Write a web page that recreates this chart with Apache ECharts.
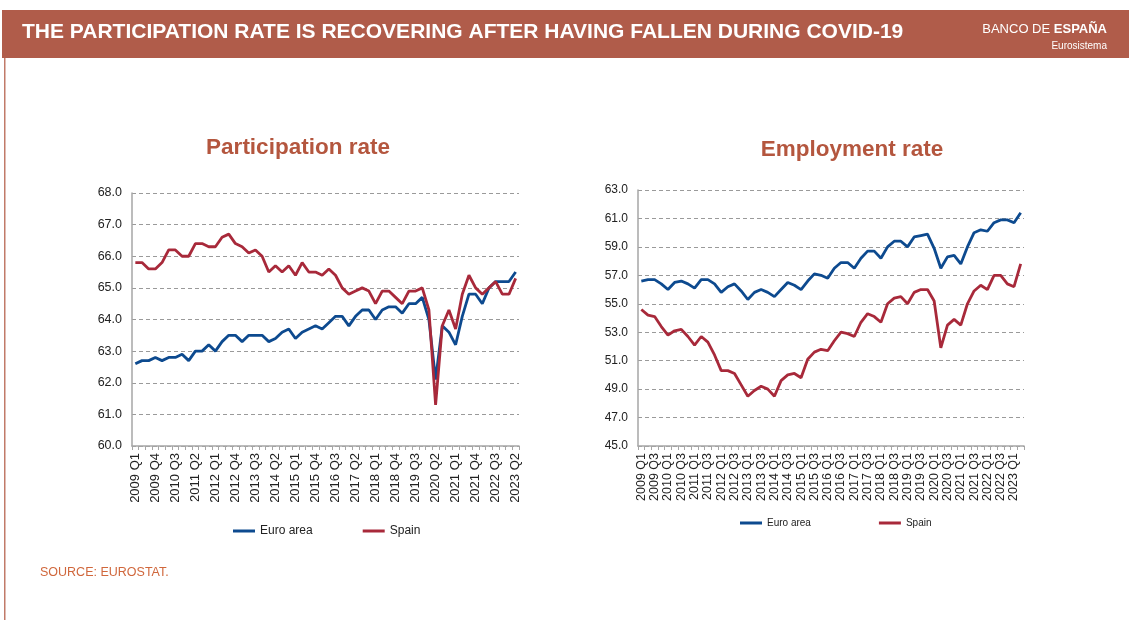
<!DOCTYPE html>
<html>
<head>
<meta charset="utf-8">
<script src="https://cdn.jsdelivr.net/npm/echarts@6/dist/echarts.min.js"></script>
<style>
  html, body { margin: 0; padding: 0; background: #fff; }
  #main { width: 1129px; height: 620px; }
</style>
</head>
<body>
<div id="main"></div>
<script>
// quarters 2009 Q1 - 2023 Q2
var quarters = [
  '2009 Q1', '2009 Q2', '2009 Q3', '2009 Q4', '2010 Q1', '2010 Q2', '2010 Q3', '2010 Q4',
  '2011 Q1', '2011 Q2', '2011 Q3', '2011 Q4', '2012 Q1', '2012 Q2', '2012 Q3', '2012 Q4',
  '2013 Q1', '2013 Q2', '2013 Q3', '2013 Q4', '2014 Q1', '2014 Q2', '2014 Q3', '2014 Q4',
  '2015 Q1', '2015 Q2', '2015 Q3', '2015 Q4', '2016 Q1', '2016 Q2', '2016 Q3', '2016 Q4',
  '2017 Q1', '2017 Q2', '2017 Q3', '2017 Q4', '2018 Q1', '2018 Q2', '2018 Q3', '2018 Q4',
  '2019 Q1', '2019 Q2', '2019 Q3', '2019 Q4', '2020 Q1', '2020 Q2', '2020 Q3', '2020 Q4',
  '2021 Q1', '2021 Q2', '2021 Q3', '2021 Q4', '2022 Q1', '2022 Q2', '2022 Q3', '2022 Q4',
  '2023 Q1', '2023 Q2'
]

// participation rate (%)
var partEuro = [
  62.6, 62.7, 62.7, 62.8, 62.7, 62.8, 62.8, 62.9, 62.7, 63.0,
  63.0, 63.2, 63.0, 63.3, 63.5, 63.5, 63.3, 63.5, 63.5, 63.5,
  63.3, 63.4, 63.6, 63.7, 63.4, 63.6, 63.7, 63.8, 63.7, 63.9,
  64.1, 64.1, 63.8, 64.1, 64.3, 64.3, 64.0, 64.3, 64.4, 64.4,
  64.2, 64.5, 64.5, 64.7, 64.0, 62.1, 63.8, 63.6, 63.2, 64.1,
  64.8, 64.8, 64.5, 65.0, 65.2, 65.2, 65.2, 65.5
]
var partSpain = [
  65.8, 65.8, 65.6, 65.6, 65.8, 66.2, 66.2, 66.0, 66.0, 66.4,
  66.4, 66.3, 66.3, 66.6, 66.7, 66.4, 66.3, 66.1, 66.2, 66.0,
  65.5, 65.7, 65.5, 65.7, 65.4, 65.8, 65.5, 65.5, 65.4, 65.6,
  65.4, 65.0, 64.8, 64.9, 65.0, 64.9, 64.5, 64.9, 64.9, 64.7,
  64.5, 64.9, 64.9, 65.0, 64.3, 61.3, 63.8, 64.3, 63.7, 64.8,
  65.4, 65.0, 64.8, 65.0, 65.2, 64.8, 64.8, 65.3
]

// employment rate (%)
var empEuro = [
  56.6, 56.7, 56.7, 56.4, 56.0, 56.5, 56.6, 56.4, 56.1, 56.7,
  56.7, 56.4, 55.8, 56.2, 56.4, 55.9, 55.3, 55.8, 56.0, 55.8,
  55.5, 56.0, 56.5, 56.3, 56.0, 56.6, 57.1, 57.0, 56.8, 57.5,
  57.9, 57.9, 57.5, 58.2, 58.7, 58.7, 58.2, 59.0, 59.4, 59.4,
  59.0, 59.7, 59.8, 59.9, 58.9, 57.5, 58.3, 58.4, 57.8, 59.0,
  60.0, 60.2, 60.1, 60.7, 60.9, 60.9, 60.7, 61.4
]
var empSpain = [
  54.6, 54.2, 54.1, 53.4, 52.8, 53.1, 53.2, 52.7, 52.1, 52.7,
  52.3, 51.4, 50.3, 50.3, 50.1, 49.3, 48.5, 48.9, 49.2, 49.0,
  48.5, 49.6, 50.0, 50.1, 49.8, 51.1, 51.6, 51.8, 51.7, 52.4,
  53.0, 52.9, 52.7, 53.7, 54.3, 54.1, 53.7, 55.0, 55.4, 55.5,
  55.0, 55.8, 56.0, 56.0, 55.2, 51.9, 53.5, 53.9, 53.5, 55.0,
  55.9, 56.3, 56.0, 57.0, 57.0, 56.4, 56.2, 57.8
]

var seriesNames = ['Euro area', 'Spain']
var mainTitle = 'THE PARTICIPATION RATE IS RECOVERING AFTER HAVING FALLEN DURING COVID-19'
var chartTitles = ['Participation rate', 'Employment rate']
var sourceText = 'SOURCE: EUROSTAT.'

var BLUE = '#0d4a8f'
var RED = '#a8293a'
var BRICK = '#b05c4a'
var FONT = '"Liberation Sans", Arial, sans-serif'

function xAxisOf(gridIndex, labelInterval, fontSize) {
  return {
    type: 'category',
    gridIndex: gridIndex,
    data: quarters,
    boundaryGap: true,
    axisLine: { lineStyle: { color: '#a6a6a6', width: 1.5 } },
    axisTick: { show: true, interval: 0, length: 4, lineStyle: { color: '#a6a6a6' } },
    axisLabel: {
      interval: labelInterval,
      rotate: 90,
      margin: 7,
      color: '#222',
      fontFamily: FONT,
      fontSize: fontSize
    },
    splitLine: { show: false }
  }
}

function yAxisOf(gridIndex, min, max, step, fontSize) {
  return {
    type: 'value',
    gridIndex: gridIndex,
    min: min,
    max: max,
    interval: step,
    axisLine: { show: true, lineStyle: { color: '#a6a6a6', width: 1.5 } },
    axisTick: { show: false },
    axisLabel: {
      margin: 10,
      color: '#222',
      fontFamily: FONT,
      fontSize: fontSize,
      formatter: function (v) { return v.toFixed(1) }
    },
    splitLine: { lineStyle: { color: '#9a9a9a', type: [4, 3], width: 1 } }
  }
}

function lineSeries(name, data, color, idx) {
  return {
    name: name,
    type: 'line',
    xAxisIndex: idx,
    yAxisIndex: idx,
    data: data,
    showSymbol: false,
    symbol: 'none',
    lineStyle: { color: color, width: 2.8 },
    itemStyle: { color: color },
    animation: false
  }
}

var chart = echarts.init(document.getElementById('main'))
var option = {
  backgroundColor: '#fff',
  animation: false,
  color: [BLUE, RED],
  title: [
    {
      text: chartTitles[0],
      left: 293,
      top: 131,
      textAlign: 'center',
      textStyle: { color: '#b4563e', fontSize: 22.5, fontWeight: 'bold', fontFamily: FONT }
    },
    {
      text: chartTitles[1],
      left: 847,
      top: 133,
      textAlign: 'center',
      textStyle: { color: '#b4563e', fontSize: 22.5, fontWeight: 'bold', fontFamily: FONT }
    }
  ],
  legend: [
    {
      data: seriesNames,
      left: 228,
      top: 520,
      icon: 'rect',
      itemWidth: 22,
      itemHeight: 3,
      itemGap: 50,
      textStyle: { color: '#222', fontSize: 12, fontFamily: FONT }
    },
    {
      data: seriesNames,
      left: 735,
      top: 513,
      icon: 'rect',
      itemWidth: 22,
      itemHeight: 3,
      itemGap: 68,
      textStyle: { color: '#222', fontSize: 10, fontFamily: FONT }
    }
  ],
  grid: [
    { left: 132, top: 193, width: 387, height: 253 },
    { left: 638, top: 190, width: 386, height: 256 }
  ],
  xAxis: [xAxisOf(0, 2, 13), xAxisOf(1, 1, 12.5)],
  yAxis: [yAxisOf(0, 60, 68, 1, 12.5), yAxisOf(1, 45, 63, 2, 12)],
  series: [
    lineSeries(seriesNames[0], partEuro, BLUE, 0),
    lineSeries(seriesNames[1], partSpain, RED, 0),
    lineSeries(seriesNames[0], empEuro, BLUE, 1),
    lineSeries(seriesNames[1], empSpain, RED, 1)
  ],
  graphic: [
    // header band
    { type: 'rect', left: 2, top: 10, shape: { width: 1127, height: 48 }, style: { fill: BRICK } },
    // left frame line
    { type: 'rect', left: 4, top: 58, shape: { width: 1.5, height: 562 }, style: { fill: '#c17a69' } },
    {
      type: 'text', left: 22, top: 22,
      style: { text: mainTitle, fill: '#fff', font: 'bold 21px ' + FONT }
    },
    {
      type: 'text', right: 22, top: 23,
      style: {
        text: '{l|BANCO DE }{b|ESPAÑA}',
        fill: '#fff',
        rich: {
          l: { fill: '#fff', fontSize: 13, fontFamily: FONT },
          b: { fill: '#fff', fontSize: 13, fontWeight: 'bold', fontFamily: FONT }
        }
      }
    },
    {
      type: 'text', right: 22, top: 41,
      style: { text: 'Eurosistema', fill: '#fff', font: '10px ' + FONT }
    },
    {
      type: 'text', left: 40, top: 566,
      style: { text: sourceText, fill: '#d0673c', font: '12.5px ' + FONT }
    }
  ]
}
chart.setOption(option)
</script>
</body>
</html>
